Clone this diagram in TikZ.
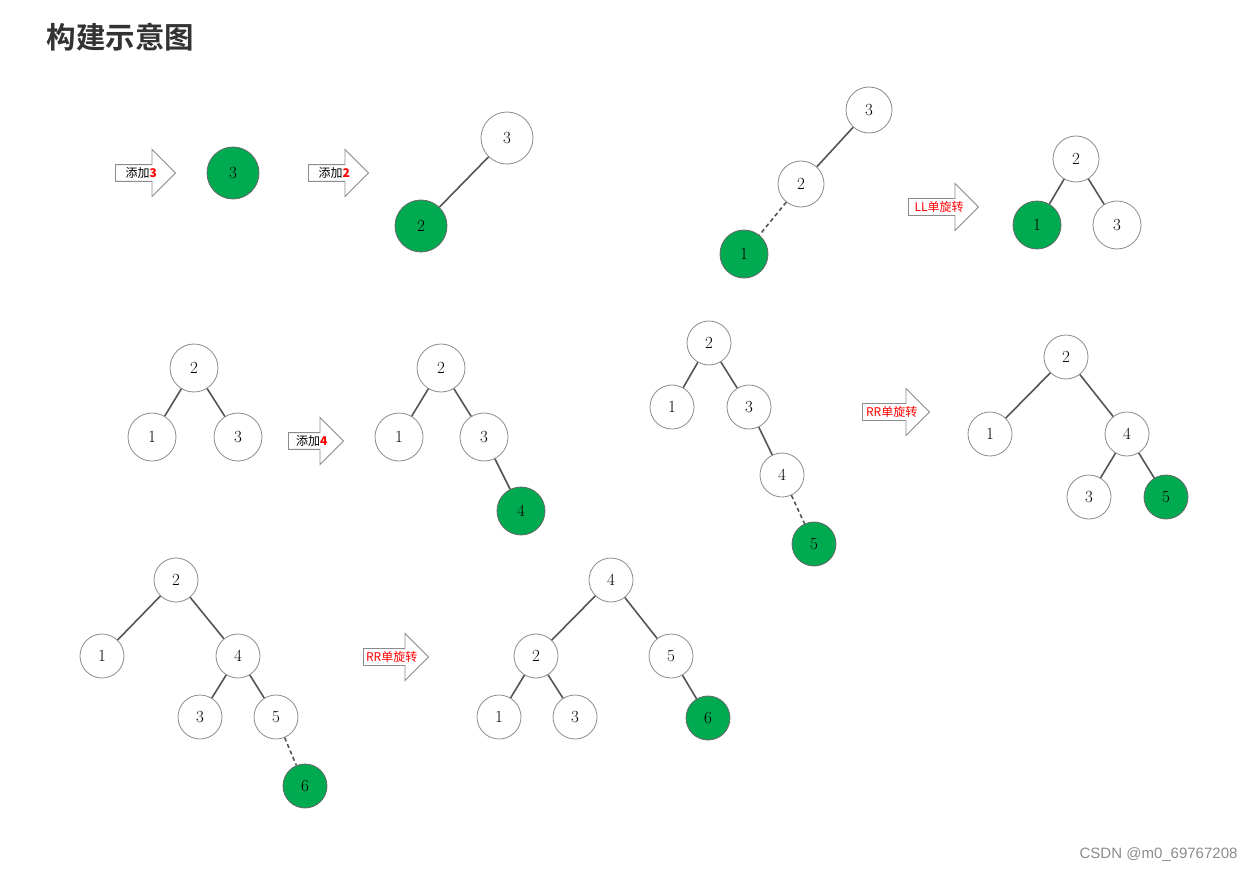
\documentclass[tikz,border=0pt]{standalone}
\usepackage{fontspec}
\newfontfamily\cjk{Noto Sans CJK SC}
\newfontfamily\cjkbold{Noto Sans CJK SC Bold}
\setsansfont{Liberation Sans}
\usetikzlibrary{shapes.arrows}
\definecolor{avlgreen}{RGB}{0,170,80}
\definecolor{edgegray}{RGB}{85,85,85}
\tikzset{
  vtx/.style={circle,draw=black!45,line width=0.8pt,fill=white,minimum size=#1,inner sep=0pt,font=\fontsize{17}{17}\selectfont},
  vtx/.default=46pt,
  newvtx/.style={vtx=#1,fill=avlgreen,draw=black!60},
  newvtx/.default=46pt,
  tree/.style={line width=1.6pt,draw=edgegray},
  newedge/.style={tree,dash pattern=on 4pt off 3pt},
  stepper/.style={single arrow,draw=black!45,line width=0.9pt,fill=white,
    single arrow head extend=15pt,minimum height=#1,inner xsep=2pt,inner ysep=2.5pt,
    font=\cjk\fontsize{12}{12}\selectfont,anchor=west},
  stepper/.default=60pt,
}
\begin{document}
\begin{tikzpicture}[x=1pt,y=-1pt]
\useasboundingbox[fill=white] (0,0) rectangle (1256,872);
\node[anchor=west,text=black!80,font=\cjkbold\fontsize{29.5}{29.5}\selectfont] (title) at (43,37) {构建示意图};

% row 1
\node[stepper] (add3) at (115,173) {添加\textcolor{red}{\textbf{3}}};
\node[newvtx=52pt] (a3) at (233,173) {3};
\node[stepper] (add2) at (308,173) {添加\textcolor{red}{\textbf{2}}};
\node[vtx=52pt] (b3) at (507,138) {3};
\node[newvtx=52pt] (b2) at (421,226) {2};
\draw[tree] (b3) -- (b2);
\node[vtx] (c3) at (869,110) {3};
\node[vtx] (c2) at (801,184) {2};
\node[newvtx=48pt] (c1) at (744,254) {1};
\draw[tree] (c3) -- (c2);
\draw[newedge] (c2) -- (c1);
\node[stepper=70pt,text=red] (ll) at (908,207) {LL单旋转};
\node[vtx] (d2) at (1076,159) {2};
\node[newvtx=48pt] (d1) at (1037,225) {1};
\node[vtx=48pt] (d3) at (1117,225) {3};
\draw[tree] (d2) -- (d1);
\draw[tree] (d2) -- (d3);

% row 2
\node[vtx=48pt] (e2) at (194,368) {2};
\node[vtx=48pt] (e1) at (152,437) {1};
\node[vtx=48pt] (e3) at (238,437) {3};
\draw[tree] (e2) -- (e1);
\draw[tree] (e2) -- (e3);
\node[stepper=55pt] (add4) at (288,441) {添加\textcolor{red}{\textbf{4}}};
\node[vtx=48pt] (f2) at (441,368) {2};
\node[vtx=48pt] (f1) at (399,437) {1};
\node[vtx=48pt] (f3) at (484,437) {3};
\node[newvtx=48pt] (f4) at (521,511) {4};
\draw[tree] (f2) -- (f1);
\draw[tree] (f2) -- (f3);
\draw[tree] (f3) -- (f4);
\node[vtx=44pt] (g2) at (709,343) {2};
\node[vtx=44pt] (g1) at (672,407) {1};
\node[vtx=44pt] (g3) at (749,407) {3};
\node[vtx=44pt] (g4) at (782,475) {4};
\node[newvtx=44pt] (g5) at (814,544) {5};
\draw[tree] (g2) -- (g1);
\draw[tree] (g2) -- (g3);
\draw[tree] (g3) -- (g4);
\draw[newedge] (g4) -- (g5);
\node[stepper=67pt,text=red] (rr1) at (862,412) {RR单旋转};
\node[vtx=44pt] (h2) at (1066,357) {2};
\node[vtx=44pt] (h1) at (990,434) {1};
\node[vtx=44pt] (h4) at (1127,434) {4};
\node[vtx=44pt] (h3) at (1089,497) {3};
\node[newvtx=44pt] (h5) at (1166,497) {5};
\draw[tree] (h2) -- (h1);
\draw[tree] (h2) -- (h4);
\draw[tree] (h4) -- (h3);
\draw[tree] (h4) -- (h5);

% row 3
\node[vtx=44pt] (i2) at (176,580) {2};
\node[vtx=44pt] (i1) at (102,656) {1};
\node[vtx=44pt] (i4) at (238,656) {4};
\node[vtx=44pt] (i3) at (200,717) {3};
\node[vtx=44pt] (i5) at (276,717) {5};
\node[newvtx=44pt] (i6) at (305,786) {6};
\draw[tree] (i2) -- (i1);
\draw[tree] (i2) -- (i4);
\draw[tree] (i4) -- (i3);
\draw[tree] (i4) -- (i5);
\draw[newedge] (i5) -- (i6);
\node[stepper=65pt,text=red] (rr2) at (363,657) {RR单旋转};
\node[vtx=44pt] (j4) at (611,580) {4};
\node[vtx=44pt] (j2) at (536,656) {2};
\node[vtx=44pt] (j5) at (671,656) {5};
\node[vtx=44pt] (j1) at (499,717) {1};
\node[vtx=44pt] (j3) at (575,717) {3};
\node[newvtx=44pt] (j6) at (708,718) {6};
\draw[tree] (j4) -- (j2);
\draw[tree] (j4) -- (j5);
\draw[tree] (j2) -- (j1);
\draw[tree] (j2) -- (j3);
\draw[tree] (j5) -- (j6);

\node[anchor=east,text=black!45,font=\sffamily\fontsize{15}{15}\selectfont] (mark) at (1241,855) {CSDN @m0\_69767208};
\end{tikzpicture}
\end{document}
